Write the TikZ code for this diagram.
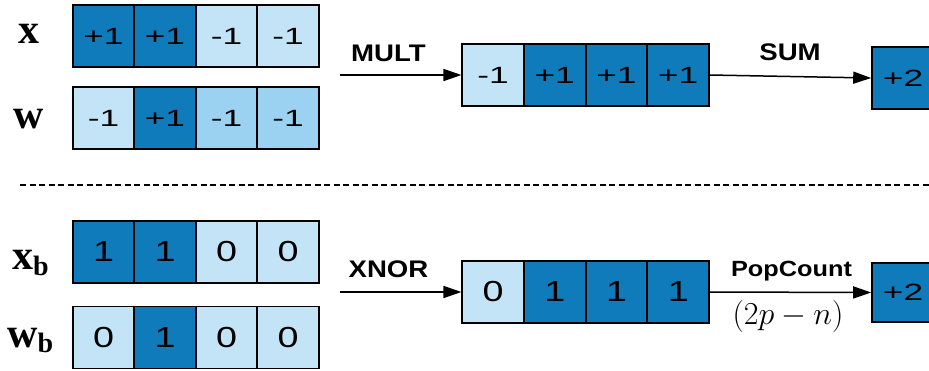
\RequirePackage{fix-cm}
\documentclass[tikz,border=0pt]{standalone}
\usepackage{fontspec}
\setmainfont{Liberation Sans}
\newfontfamily\lserif{Liberation Serif}
\newfontfamily\numfont[FakeStretch=1.5]{Liberation Sans}
\newfontfamily\numfontb[FakeStretch=1.3]{Liberation Sans}
\newfontfamily\labfont[FakeStretch=1.15]{Liberation Sans Bold}
\usetikzlibrary{arrows.meta}
\definecolor{dk}{HTML}{0F7BBA}
\definecolor{lt}{HTML}{C3E4F6}
\definecolor{md}{HTML}{9CD2F1}
\begin{document}
\begin{tikzpicture}[x=1pt,y=-1pt,
  cell/.style={draw=black, line width=1.6pt, minimum width=61.5pt, minimum height=62pt, inner sep=0pt, font=\numfont\fontsize{23.5}{23.5}\selectfont},
  dkc/.style={cell, fill=dk},
  ltc/.style={cell, fill=lt},
  mdc/.style={cell, fill=md},
  bits/.style={font=\numfontb\fontsize{29}{29}\selectfont},
  oplabel/.style={font=\labfont\fontsize{24}{24}\selectfont, inner sep=0pt, anchor=base},
  vlabel/.style={font=\lserif\bfseries\fontsize{42}{42}\selectfont, inner sep=0pt, anchor=base west},
  arr/.style={line width=1.5pt, -{Triangle[length=18pt,width=12pt]}}]
\useasboundingbox (0,0) rectangle (929,370);
\clip (0,0) rectangle (929,370);
% top: x and w
\node[vlabel] (lx) at (18,43) {x};
\node[vlabel] (lw) at (13,128) {w};
\node[dkc] (x1) at (103.5,36) {+1};
\node[dkc] (x2) at (165,36) {+1};
\node[ltc] (x3) at (226.5,36) {-1};
\node[ltc] (x4) at (288,36) {-1};
\node[ltc] (w1) at (103.5,118) {-1};
\node[dkc] (w2) at (165,118) {+1};
\node[mdc] (w3) at (226.5,118) {-1};
\node[mdc] (w4) at (288,118) {-1};
% result top
\node[ltc] (r1) at (493,75) {-1};
\node[dkc] (r2) at (554.75,75) {+1};
\node[dkc] (r3) at (616.5,75) {+1};
\node[dkc] (r4) at (678.25,75) {+1};
\node[dkc, minimum width=62pt] (s1) at (903,78) {+2};
\coordinate (m0) at (340,75);
\draw[arr] (m0) -- (r1.west);
\draw[arr] (r4.east) -- (s1.west);
\node[oplabel] (lmult) at (388.5,61) {MULT};
\node[oplabel] (lsum) at (790,60) {SUM};
% dashed separator
\coordinate (d0) at (20,185);
\coordinate (d1) at (929,185);
\draw[line width=2pt, dash pattern=on 6pt off 3.5pt] (d0) -- (d1);
% bottom: xb and wb
\node[vlabel] (lxb) at (12,269) {x\raisebox{-6pt}{\fontsize{28}{28}\selectfont b}};
\node[vlabel] (lwb) at (7,347) {w\raisebox{-5pt}{\fontsize{28}{28}\selectfont b}};
\node[dkc, bits] (xb1) at (103.5,252) {1};
\node[dkc, bits] (xb2) at (165,252) {1};
\node[ltc, bits] (xb3) at (226.5,252) {0};
\node[ltc, bits] (xb4) at (288,252) {0};
\node[ltc, bits] (wb1) at (103.5,337.5) {0};
\node[dkc, bits] (wb2) at (165,337.5) {1};
\node[ltc, bits] (wb3) at (226.5,337.5) {0};
\node[ltc, bits] (wb4) at (288,337.5) {0};
% result bottom
\node[ltc, bits] (q1) at (493,292) {0};
\node[dkc, bits] (q2) at (554.75,292) {1};
\node[dkc, bits] (q3) at (616.5,292) {1};
\node[dkc, bits] (q4) at (678.25,292) {1};
\node[dkc, minimum width=62pt, minimum height=59pt] (s2) at (903,292.5) {+2};
\coordinate (n0) at (340,292);
\draw[arr] (n0) -- (q1.west);
\draw[arr] (q4.east) -- (s2.west);
\node[oplabel] (lxnor) at (388.5,277) {XNOR};
\node[oplabel, font=\labfont\fontsize{22}{22}\selectfont] (lpop) at (791.5,276) {PopCount};
\node[inner sep=0pt, anchor=base, font=\fontsize{32}{32}\selectfont] (lform) at (788,324) {$(2p-n)$};
\end{tikzpicture}
\end{document}
